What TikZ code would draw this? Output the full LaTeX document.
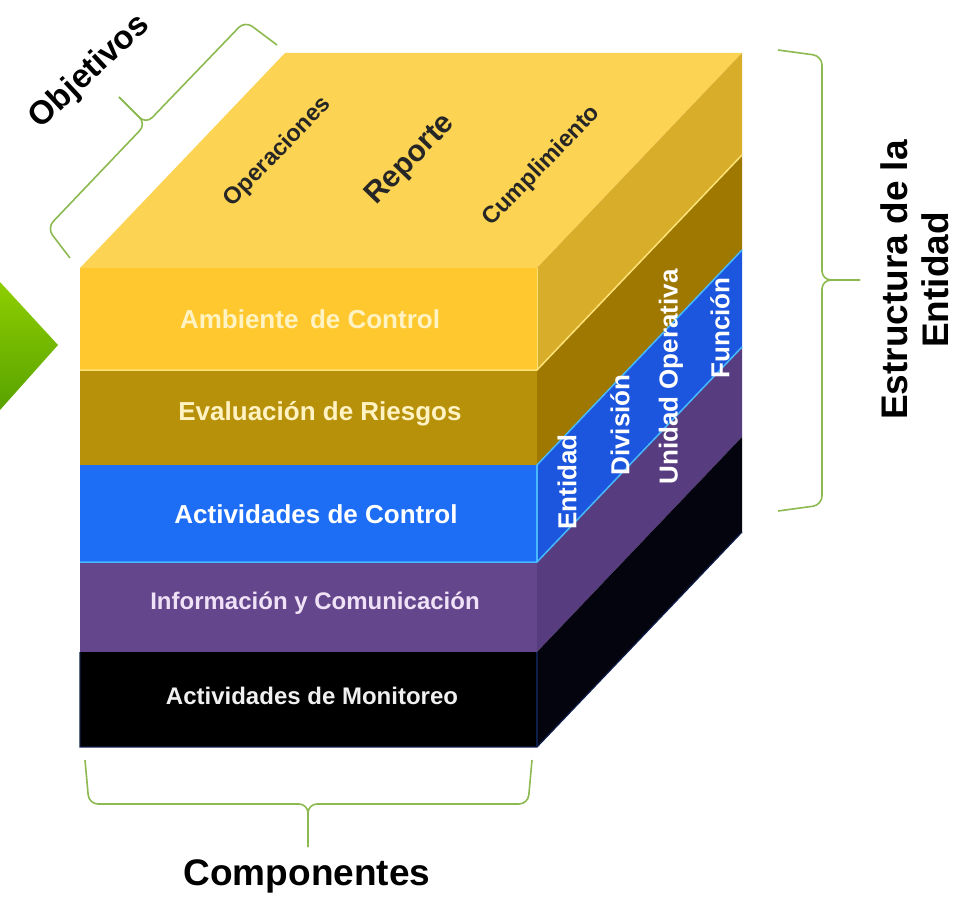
\documentclass[tikz,border=0pt]{standalone}
\usepackage{fontspec}
\setmainfont{Liberation Sans}
\usetikzlibrary{calc}
\definecolor{topY}{RGB}{252,211,82}
\definecolor{ambF}{RGB}{255,200,46}
\definecolor{ambS}{RGB}{216,173,42}
\definecolor{ambL}{RGB}{255,226,120}
\definecolor{evaF}{RGB}{184,145,10}
\definecolor{evaS}{RGB}{158,120,0}
\definecolor{actF}{RGB}{30,110,245}
\definecolor{actS}{RGB}{28,86,222}
\definecolor{cyanL}{RGB}{70,185,255}
\definecolor{infF}{RGB}{100,70,140}
\definecolor{infS}{RGB}{88,60,128}
\definecolor{monS}{RGB}{4,4,14}
\definecolor{navyL}{RGB}{14,30,75}
\definecolor{braceG}{RGB}{140,185,80}
\definecolor{arrowTop}{RGB}{142,206,0}
\definecolor{arrowBot}{RGB}{88,162,0}
\definecolor{creamT}{RGB}{255,243,196}
\definecolor{lavT}{RGB}{240,226,246}
\tikzset{
  bracepath/.style={draw=braceG, line width=1.6pt, rounded corners=9pt},
  layerlabel/.style={font=\bfseries\fontsize{26}{30}\selectfont, inner sep=0pt},
  sidelabel/.style={font=\bfseries\fontsize{26}{30}\selectfont, text=white, rotate=90, inner sep=0pt},
  toplabel/.style={font=\bfseries\fontsize{23.5}{27}\selectfont, text=black!85, rotate=46, inner sep=0pt},
  biglabel/.style={font=\bfseries\fontsize{37}{41}\selectfont, text=black, inner sep=0pt, align=center}
}
\begin{document}
\begin{tikzpicture}[x=1pt,y=-1pt]
\useasboundingbox (0,0) rectangle (974,904);

% green arrow tip at the left
\shade[top color=arrowTop, bottom color=arrowBot] (0,282) -- (58,345) -- (0,410) -- cycle;

% top face
\fill[topY] (80,268) -- (285,53) -- (742,53) -- (537,268) -- cycle;
% Ambiente
\fill[ambF] (80,268) rectangle (537,370);
\fill[ambS] (537,268) -- (742,53) -- (742,155) -- (537,370) -- cycle;
% Evaluacion
\fill[evaF] (80,370) rectangle (537,465);
\fill[evaS] (537,370) -- (742,155) -- (742,250) -- (537,465) -- cycle;
% Actividades de control
\fill[actF] (80,465) rectangle (537,562);
\fill[actS] (537,465) -- (742,250) -- (742,347) -- (537,562) -- cycle;
% Informacion
\fill[infF] (80,562) rectangle (537,652);
\fill[infS] (537,562) -- (742,347) -- (742,437) -- (537,652) -- cycle;
% Monitoreo
\fill[black] (80,652) rectangle (537,747);
\fill[monS] (537,652) -- (742,437) -- (742,532) -- (537,747) -- cycle;

% light edges
\draw[ambL, line width=1.5pt] (80,370) -- (537,370) -- (742,155);
\draw[ambL, line width=1pt] (537,268) -- (537,370);
\draw[cyanL, line width=1.5pt] (537,465) -- (742,250);
\draw[cyanL, line width=1.5pt] (80,562) -- (537,562) -- (742,347);
\draw[cyanL, line width=1.2pt] (537,465) -- (537,562);
\draw[navyL, line width=1.2pt] (80,652) -- (80,747) -- (537,747) -- (742,532);
\draw[navyL, line width=1.2pt] (537,652) -- (537,747);

% front labels
\node[layerlabel, text=creamT] (amb) at (310,319) {Ambiente\, de Control};
\node[layerlabel, text=creamT] (eva) at (320,414) {Evaluación de Riesgos};
\node[layerlabel, text=white] (act) at (316,514) {Actividades de Control};
\node[layerlabel, text=lavT, font=\bfseries\fontsize{24}{28}\selectfont] (inf) at (315,603) {Información y Comunicación};
\node[layerlabel, text=white!94!black, font=\bfseries\fontsize{24}{28}\selectfont] (mon) at (312,696) {Actividades de Monitoreo};

% top labels
\node[toplabel] (ope) at (278,152) {Operaciones};
\node[toplabel, font=\bfseries\fontsize{30}{34}\selectfont] (rep) at (411,160) {Reporte};
\node[toplabel] (cum) at (542,166) {Cumplimiento};

% side labels
\node[sidelabel] (ent) at (567,482) {Entidad};
\node[sidelabel] (div) at (620,425) {División};
\node[sidelabel] (uni) at (671,377) {Unidad Operativa};
\node[sidelabel] (fun) at (720,328) {Función};

% braces
\coordinate (obA) at (70,258);
\coordinate (obC1) at (47,228);
\coordinate (obM) at (146,124);
\coordinate (obT) at (119,97);
\coordinate (obC2) at (245,21);
\coordinate (obB) at (277,45);
\draw[bracepath] (obA) -- (obC1) -- (obM) -- (obT);
\draw[bracepath] (obB) -- (obC2) -- (obM) -- (obT);

\coordinate (coA) at (85,760);
\coordinate (coC1) at (89,804);
\coordinate (coM) at (308,804);
\coordinate (coT) at (308,847);
\coordinate (coC2) at (528,804);
\coordinate (coB) at (532,760);
\draw[bracepath] (coA) -- (coC1) -- (coM) -- (coT);
\draw[bracepath] (coB) -- (coC2) -- (coM) -- (coT);

\coordinate (esA) at (778,50);
\coordinate (esC1) at (822,56);
\coordinate (esM) at (822,280);
\coordinate (esT) at (860,280);
\coordinate (esC2) at (822,505);
\coordinate (esB) at (778,511);
\draw[bracepath] (esA) -- (esC1) -- (esM) -- (esT);
\draw[bracepath] (esB) -- (esC2) -- (esM) -- (esT);

% outer labels
\node[biglabel, font=\bfseries\fontsize{33}{38}\selectfont, rotate=43] (obj) at (90,72) {Objetivos};
\node[biglabel] (comp) at (307,876) {Componentes};
\node[biglabel, rotate=90] (est) at (915,280) {Estructura de la\\Entidad};
\end{tikzpicture}
\end{document}
